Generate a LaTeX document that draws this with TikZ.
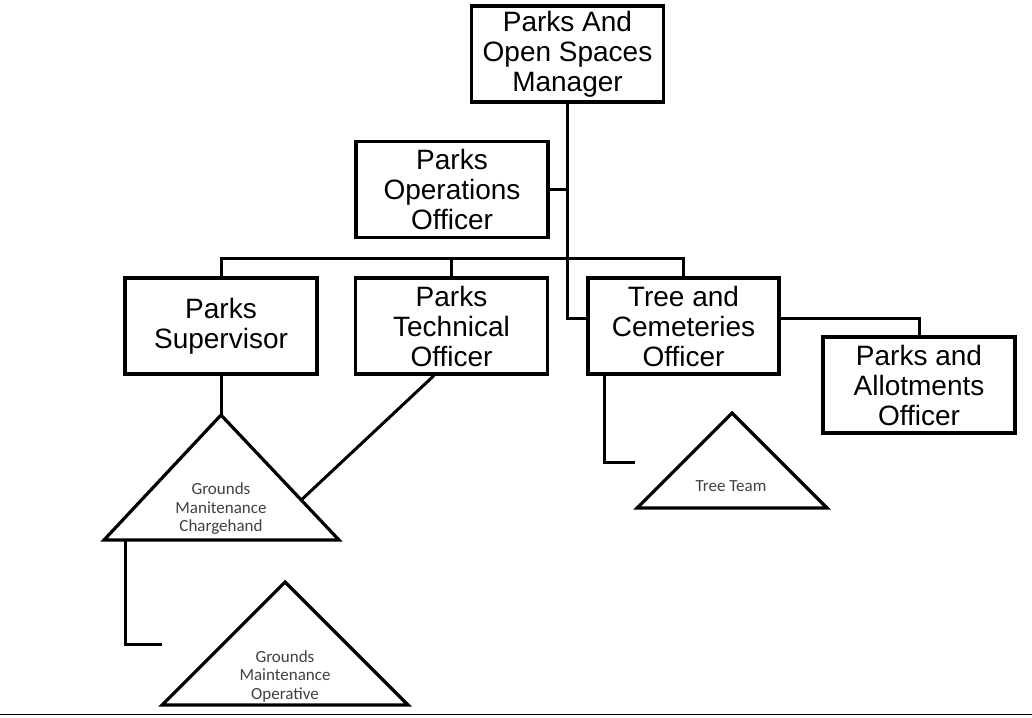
\documentclass[tikz,border=0pt]{standalone}
\usepackage{fontspec}
\setmainfont{Liberation Sans}
\newfontfamily\arialike{Liberation Sans}
\newfontfamily\calib{Carlito}
\usetikzlibrary{calc}
\definecolor{tritext}{HTML}{404040}
\begin{document}
\begin{tikzpicture}[x=1pt,y=-1pt,
  line width=3pt,
  rolebox/.style={draw, line width=3.2pt, rectangle, inner sep=0pt, minimum width=192pt, minimum height=96pt, align=center, font=\arialike\fontsize{28}{30}\selectfont},
  tritxt/.style={align=center, inner sep=0pt, text=tritext, font=\calib\fontsize{17}{18.5}\selectfont},
  tri/.style={draw, line width=3.2pt, line join=miter}]
\useasboundingbox (0,0) rectangle (1032,717);

% boxes
\node[rolebox] (mgr) at (567.5,54) {Parks And\\Open Spaces\\Manager};
\node[rolebox] (ops) at (452,189.5) {Parks\\Operations\\Officer};
\node[rolebox] (sup) at (221,326) {Parks\\Supervisor};
\node[rolebox] (tech) at (451.5,326) {Parks\\Technical\\Officer};
\node[rolebox, minimum width=191pt] (tree) at (683.5,326) {Tree and\\Cemeteries\\Officer};
\node[rolebox] (allot) at (919,385) {Parks and\\Allotments\\Officer};

% junction coordinates
\coordinate (bus) at (567,258);
\coordinate (treeIn) at (588,318);

% triangles
\coordinate (chA) at (221,415);
\coordinate (chL) at (104,540);
\coordinate (chR) at (339,540);
\coordinate (opA) at (285,582);
\coordinate (opL) at (162,705);
\coordinate (opR) at (408,705);
\coordinate (ttA) at (732,413);
\coordinate (ttL) at (637,508);
\coordinate (ttR) at (827,508);
\draw[tri] (chA) -- (chR) -- (chL) -- cycle;
\draw[tri] (opA) -- (opR) -- (opL) -- cycle;
\draw[tri] (ttA) -- (ttR) -- (ttL) -- cycle;
\node[tritxt] (ch) at (221,509) {Grounds\\Manitenance\\Chargehand};
\node[tritxt] (op) at (285,676) {Grounds\\Maintenance\\Operative};
\node[tritxt] (tt) at (731,486) {Tree Team};

% connectors
\draw (mgr.south) |- (treeIn);
\draw (ops.east) -- (ops.east -| mgr.south);
\draw (sup.north) |- (bus) -| (tree.north);
\draw (tech.north) -- (tech.north |- bus);
\draw (tree.east |- treeIn) -| (allot.north);
\draw (sup.south) -- (chA);
\draw ($(tech.south west)!0.41!(tech.south east)$) -- ($(chA)!0.68!(chR)$);
\coordinate (chEnd) at (162,644);
\draw ($(chL)!0.09!(chR)$) |- (chEnd);
\coordinate (ttEnd) at (635,462);
\draw ($(tree.south west)!0.094!(tree.south east)$) |- (ttEnd);

% bottom rule
\coordinate (ruleL) at (0,714.5);
\coordinate (ruleR) at (1032,714.5);
\draw[line width=1.8pt] (ruleL) -- (ruleR);
\end{tikzpicture}
\end{document}
